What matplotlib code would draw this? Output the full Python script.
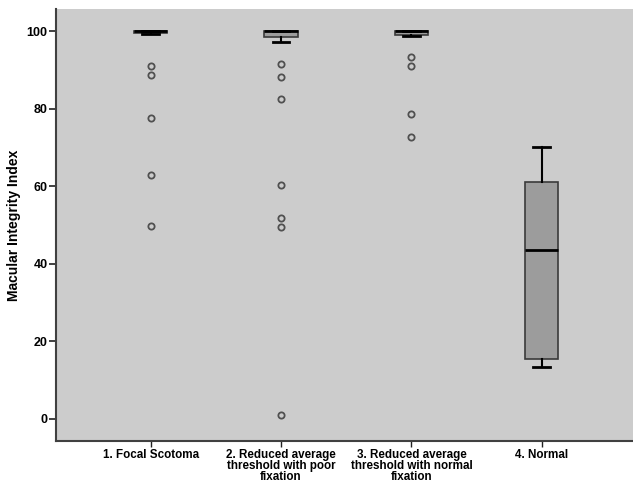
import matplotlib
matplotlib.use("Agg")
import matplotlib.pyplot as plt

categories = ["1. Focal Scotoma",
              "2. Reduced average\nthreshold with poor\nfixation",
              "3. Reduced average\nthreshold with normal\nfixation",
              "4. Normal"]
whisker_low = [99.3, 97.3, 98.7, 13.4]
q1 = [99.4, 98.5, 99.1, 15.4]
median = [100.0, 100.0, 99.9, 43.5]
q3 = [100.0, 100.0, 100.0, 61.2]
whisker_high = [100.0, 100.0, 100.0, 70.0]
outliers = [
    [90.9, 88.6, 77.6, 63.0, 49.8],
    [91.5, 88.1, 82.5, 60.2, 51.8, 49.4, 1.1],
    [93.4, 91.0, 78.6, 72.6],
    [],
]
yticks = [0, 20, 40, 60, 80, 100]

plt.rcParams['font.family'] = ['Liberation Sans Narrow', 'Liberation Sans', 'DejaVu Sans']
plt.rcParams['font.weight'] = 'bold'

fig = plt.figure(figsize=(6.33, 4.84), dpi=100)
ax = fig.add_axes([0.0885, 0.0888, 0.9115, 0.8926])
ax.set_facecolor('#cccccc')

stats = []
for i in range(len(categories)):
    stats.append(dict(whislo=whisker_low[i], q1=q1[i], med=median[i], q3=q3[i],
                      whishi=whisker_high[i], fliers=outliers[i]))

ax.bxp(stats, positions=range(1, len(categories) + 1), widths=0.255,
       patch_artist=True, showfliers=True,
       boxprops=dict(facecolor='#9c9c9c', edgecolor='#3a3a3a', linewidth=1.2),
       medianprops=dict(color='black', linewidth=2.0),
       whiskerprops=dict(color='black', linewidth=1.5),
       capprops=dict(color='black', linewidth=2.0),
       capwidths=0.13,
       flierprops=dict(marker='o', markerfacecolor='none', markeredgecolor='#505050',
                       markersize=4.5, markeredgewidth=1.3, linestyle='none'))

ax.set_xlim(0.274, 4.70)
ax.set_ylim(-5.7, 105.7)
ax.set_yticks(yticks)
ax.set_yticklabels([str(v) for v in yticks], fontsize=9, fontweight='bold')
ax.set_xticks(range(1, len(categories) + 1))
ax.set_xticklabels(categories, fontsize=8.4, fontweight='bold', linespacing=0.88)
ax.set_ylabel("Macular Integrity Index", fontsize=10, fontweight='bold', labelpad=4)

for s in ['top', 'right']:
    ax.spines[s].set_visible(False)
for s in ['left', 'bottom']:
    ax.spines[s].set_color('#404040')
    ax.spines[s].set_linewidth(1.5)
ax.tick_params(axis='y', length=5, width=1.2, color='#202020', pad=1)
ax.tick_params(axis='x', length=4, width=1.0, color='#202020', pad=2)

fig.savefig("out.png", dpi=100)
